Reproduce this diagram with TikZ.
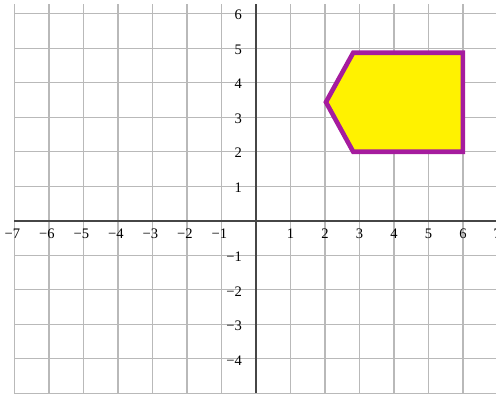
\documentclass[tikz,border=0pt]{standalone}
\usepackage{fontspec}
\setmainfont{Liberation Serif}
\usepackage{xcolor}
\definecolor{shapeedge}{RGB}{165,28,158}
\definecolor{gridgray}{RGB}{185,185,185}
\definecolor{axisgray}{RGB}{70,70,70}
\begin{document}
\begin{tikzpicture}[font=\fontsize{12}{14}\selectfont,
  gridline/.style={draw=gridgray,line width=1.1pt},
  axisline/.style={draw=axisgray,line width=1.4pt},
  lbl/.style={inner sep=0pt}]
\useasboundingbox (-7.42,-5.03) rectangle (6.96,6.40);
% grid
\foreach \x in {-7,...,7}
  \draw[gridline] (\x,-5) -- (\x,6.27);
\foreach \y in {-5,...,6}
  \draw[gridline] (-7,\y) -- (7,\y);
% axes
\draw[axisline] (-7,0) -- (7,0);
\draw[axisline] (0,-5) -- (0,6.27);
% tick labels
\foreach \x in {1,...,7}
  \node[lbl] (xp\x) at (\x,-0.38) {\x};
\foreach \x in {1,...,7}
  \node[lbl] (xn\x) at (-\x-0.06,-0.38) {−\x};
\foreach \y in {1,...,6}
  \node[lbl,anchor=east] (yp\y) at (-0.4,\y-0.03) {\y};
\foreach \y in {1,...,4}
  \node[lbl,anchor=east] (yn\y) at (-0.4,-\y-0.05) {−\y};
% pentagon
\coordinate (pa) at (2.82,2);
\coordinate (pb) at (6,2);
\coordinate (pc) at (6,4.87);
\coordinate (pd) at (2.82,4.87);
\coordinate (pe) at (2.03,3.44);
\draw[draw=shapeedge,fill=yellow,line width=3.8pt,line join=miter]
  (pa) -- (pb) -- (pc) -- (pd) -- (pe) -- cycle;
\end{tikzpicture}
\end{document}
